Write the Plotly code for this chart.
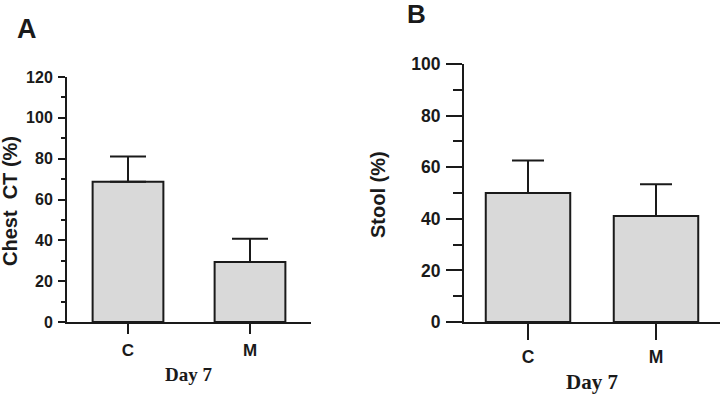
import plotly.graph_objects as go

categories = ["C", "M"]
chest_ct = [68.7, 29.4]
chest_ct_err = [12.3, 11.4]
stool = [50.0, 41.1]
stool_err = [12.6, 12.3]

panel_letters = ["A", "B"]
y_titles = ["Chest  CT (%)", "Stool (%)"]
x_title = "Day 7"
ticks_a = [0, 20, 40, 60, 80, 100, 120]
ticks_b = [0, 20, 40, 60, 80, 100]

INK = "#1a1a1a"
FILL = "#d9d9d9"
SANS = "Liberation Sans, Arial, sans-serif"
SERIF = "Liberation Serif, Times New Roman, serif"

fig = go.Figure()

fig.add_trace(go.Bar(
    x=categories, y=chest_ct, xaxis="x", yaxis="y",
    width=0.58, marker=dict(color=FILL, line=dict(color=INK, width=2)),
    error_y=dict(type="data", array=chest_ct_err, arrayminus=[0, 0], symmetric=False,
                 color=INK, thickness=2, width=18),
    showlegend=False,
))
fig.add_trace(go.Bar(
    x=categories, y=stool, xaxis="x2", yaxis="y2",
    width=0.66, marker=dict(color=FILL, line=dict(color=INK, width=2)),
    error_y=dict(type="data", array=stool_err, arrayminus=[0, 0], symmetric=False,
                 color=INK, thickness=2, width=16),
    showlegend=False,
))


def yax(domain, anchor, rng, ticks, ticklen, minorlen, fsize):
    return dict(domain=domain, anchor=anchor, range=rng, automargin=False,
                showline=True, linecolor=INK, linewidth=2, ticks="outside",
                ticklen=ticklen, tickwidth=2, tickcolor=INK, ticklabelstandoff=2,
                tickfont=dict(family=SANS, size=fsize, color=INK, weight="bold"),
                tickvals=ticks, ticktext=[str(v) for v in ticks],
                minor=dict(tickvals=[v + 10 for v in ticks[:-1]], ticks="outside",
                           ticklen=minorlen, tickwidth=2, tickcolor=INK, showgrid=False),
                showgrid=False, zeroline=False)

def xax(domain, anchor, ticklen, fsize):
    return dict(domain=domain, anchor=anchor, range=[-0.5, 1.5], automargin=False,
                showline=True, linecolor=INK, linewidth=2, ticks="outside",
                ticklen=ticklen, tickwidth=2, tickcolor=INK, ticklabelstandoff=2,
                tickfont=dict(family=SANS, size=fsize, color=INK, weight="bold"),
                showgrid=False, zeroline=False,
                tickvals=categories, ticktext=categories)

fig.update_layout(
    template="none",
    autosize=False,
    width=722, height=395,
    margin=dict(l=0, r=0, t=0, b=0, autoexpand=False),
    paper_bgcolor="white", plot_bgcolor="white",
    showlegend=False,
    xaxis=xax([67/722, 311/722], "y", 10, 17),
    yaxis=yax([1-322/395, 1-77/395], "x", [0, 120], ticks_a, 7, 4, 16),
    xaxis2=xax([464/722, 720/722], "y2", 16, 17.5),
    yaxis2=yax([1-322/395, 1-64/395], "x2", [0, 100], ticks_b, 16, 9, 17.5),
)

def note(text, x, y, size, family, angle=0):
    return dict(text=f"<b>{text}</b>", x=x/722, y=1-y/395, xref="paper", yref="paper",
                xanchor="center", yanchor="middle", showarrow=False, textangle=angle,
                font=dict(family=family, size=size, color=INK))

ann = [
    note(panel_letters[0], 27, 29, 27, SANS),
    note(panel_letters[1], 416, 14, 26, SANS),
    note(y_titles[0], 10, 201, 20, SANS, -90),
    note(y_titles[1], 378, 195, 20, SANS, -90),
    note(x_title, 188, 374, 19, SERIF),
    note(x_title, 592, 382, 21, SERIF),
]
fig.update_layout(annotations=ann)

fig.write_html(
    "out.html",
    config={"displayModeBar": False},
    post_script="document.body.style.margin='0';document.body.style.overflow='hidden';",
)
